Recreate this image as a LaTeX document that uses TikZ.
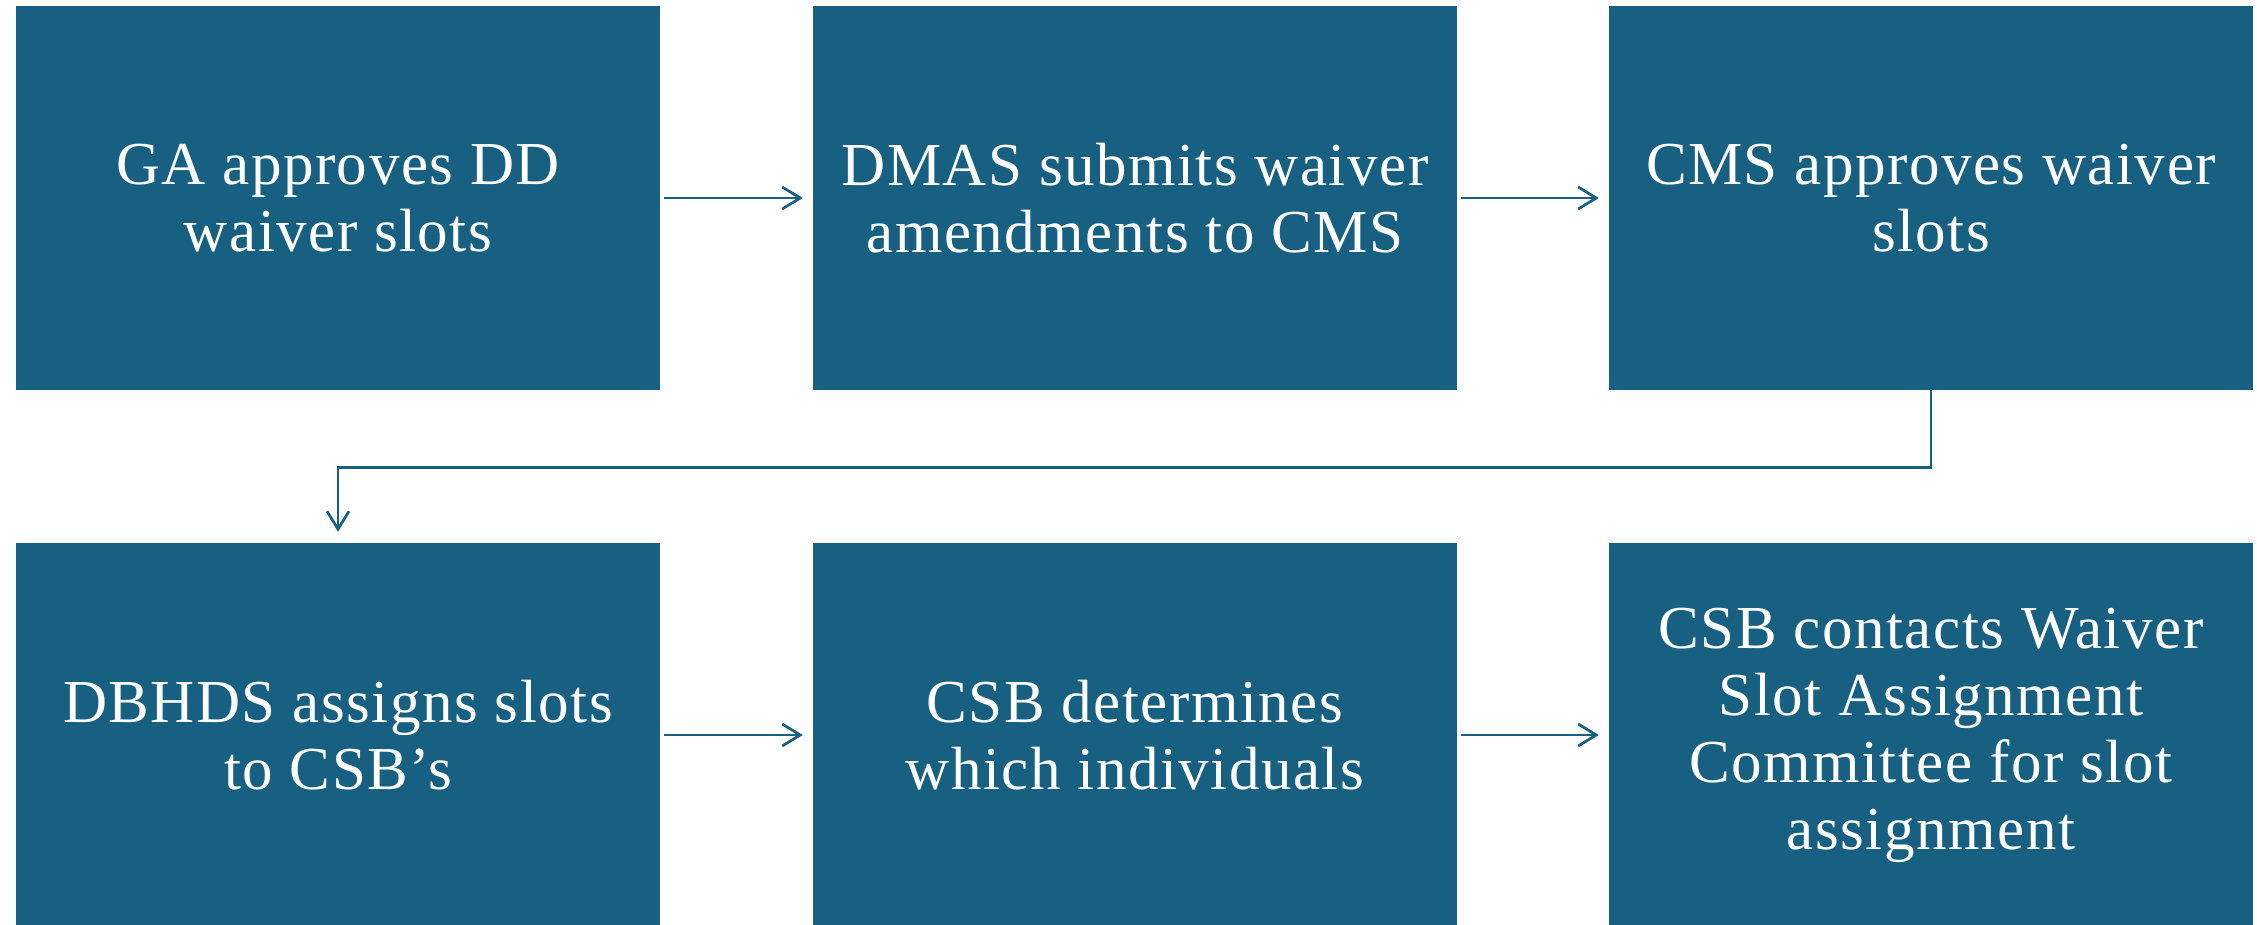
\documentclass[tikz,border=0pt]{standalone}
\usepackage{fontspec}
\setmainfont{Liberation Serif}
\newfontfamily\boxfont[LetterSpace=2.5]{Liberation Serif}
\usetikzlibrary{arrows.meta}
\definecolor{boxblue}{RGB}{23,96,129}
\tikzset{
  stepbox/.style={fill=boxblue, draw=none, inner sep=0pt, minimum width=644pt, minimum height=384pt,
    text=white, align=center, font=\boxfont\fontsize{61}{67}\selectfont},
  arr/.style={draw=boxblue, line width=2.7pt, -{Straight Barb[length=18pt,width=22pt]}}
}
\begin{document}
\begin{tikzpicture}[x=1pt,y=-1pt]
\clip (0,0) rectangle (2257,924);
\useasboundingbox (0,0) rectangle (2257,924);
\node[stepbox] (a) at (338,198) {GA approves DD\\waiver slots};
\node[stepbox] (b) at (1135,198) {DMAS submits waiver\\amendments to CMS};
\node[stepbox] (c) at (1931,198) {CMS approves waiver\\slots};
\node[stepbox] (d) at (338,735) {DBHDS assigns slots\\to CSB’s};
\node[stepbox] (e) at (1135,735) {CSB determines\\which individuals};
\node[stepbox] (f) at (1931,735) {CSB contacts Waiver\\Slot Assignment\\Committee for slot\\assignment};
\draw[arr] ([xshift=4pt]a.east) -- ([xshift=-10pt]b.west);
\draw[arr] ([xshift=4pt]b.east) -- ([xshift=-10pt]c.west);
\draw[arr] ([xshift=4pt]d.east) -- ([xshift=-10pt]e.west);
\draw[arr] ([xshift=4pt]e.east) -- ([xshift=-10pt]f.west);
\draw[arr] (c.south) -- ++(0,77) -| ([yshift=11pt]d.north);
\end{tikzpicture}
\end{document}
